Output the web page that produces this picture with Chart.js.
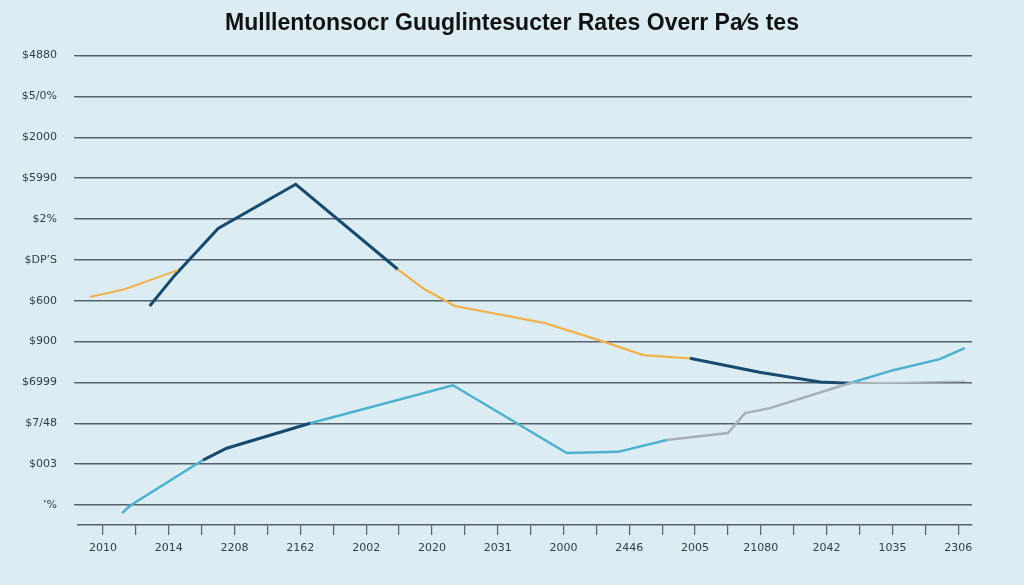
<!DOCTYPE html>
<html>
<head>
<meta charset="utf-8">
<script src="https://cdn.jsdelivr.net/npm/chart.js@4/dist/chart.umd.min.js"></script>
<style>
  html, body { margin: 0; padding: 0; background: #dbedf2; }
  #wrap { width: 1024px; height: 585px; position: relative; }
</style>
</head>
<body>
<div id="wrap"><canvas id="chart"></canvas></div>
<script>
// Title and tick labels (as printed in the picture)
const chartTitle = 'Mulllentonsocr Guuglintesucter Rates Overr Pa\u2044s tes';
const xTickLabels = ['2010', '2014', '2208', '2162', '2002', '2020', '2031',
                     '2000', '2446', '2005', '21080', '2042', '1035', '2306'];
// bottom to top
const yTickLabels = ['\u2019%', '$003', '$7/48', '$6999', '$900', '$600',
                     '$DP\u2019S', '$2%', '$5990', '$2000', '$5/0%', '$4880'];

// Line segments, x = tick index, y = gridline index
const orangeA_x = [-0.20, 0.33, 1.14];
const orangeA_y = [5.09, 5.28, 5.75];
const navyA_x = [0.71, 1.09, 1.75, 2.93, 4.48];
const navyA_y = [4.87, 5.62, 6.77, 7.85, 5.77];
const orangeB_x = [4.48, 4.89, 5.35, 6.72, 7.55, 8.21, 8.92];
const orangeB_y = [5.77, 5.28, 4.87, 4.45, 4.03, 3.67, 3.59];
const navyB_x = [8.92, 9.98, 10.90, 11.35];
const navyB_y = [3.59, 3.25, 3.01, 2.98];
const blueC_x = [11.35, 12.01, 12.72, 13.10];
const blueC_y = [2.98, 3.30, 3.57, 3.84];
const grayFlat_x = [11.35, 13.10];
const grayFlat_y = [2.98, 3.03];
const grayRise_x = [8.57, 9.50, 9.76, 10.14, 11.35];
const grayRise_y = [1.59, 1.76, 2.25, 2.37, 2.98];
const blueA_x = [0.29, 0.41, 1.52];
const blueA_y = [-0.20, -0.02, 1.10];
const navyC_x = [1.52, 1.88, 3.15];
const navyC_y = [1.10, 1.39, 2.00];
const blueD_x = [3.15, 5.32, 6.29, 7.05, 7.83, 8.57];
const blueD_y = [2.00, 2.93, 2.00, 1.27, 1.30, 1.59];

const ORANGE = '#f1b24b';
const NAVY = '#164a6e';
const BLUE = '#4cb0cf';
const GRAY = '#a8aeb4';
const GRID = '#56606a';

function seg(xs, ys, color, width) {
    return {
        data: xs.map((x, i) => ({ x: x, y: ys[i] })),
        borderColor: color,
        borderWidth: width,
        pointRadius: 0,
        tension: 0,
        fill: false
    };
}

const datasets = [
    seg(grayFlat_x, grayFlat_y, '#b9bec3', 1.5),
    seg(grayRise_x, grayRise_y, GRAY, 2.5),
    seg(blueA_x, blueA_y, BLUE, 2.5),
    seg(blueD_x, blueD_y, BLUE, 2.5),
    seg(blueC_x, blueC_y, BLUE, 2.5),
    seg(orangeA_x, orangeA_y, ORANGE, 2),
    seg(orangeB_x, orangeB_y, ORANGE, 2.2),
    seg(navyC_x, navyC_y, NAVY, 3),
    seg(navyA_x, navyA_y, NAVY, 3),
    seg(navyB_x, navyB_y, NAVY, 3)
];

const tickFont = { family: 'DejaVu Sans', size: 11 };

new Chart(document.getElementById('chart'), {
    type: 'line',
    data: { datasets: datasets },
    options: {
        responsive: true,
        maintainAspectRatio: false,
        animation: false,
        layout: { padding: 0 },
        plugins: {
            legend: { display: false },
            tooltip: { enabled: false },
            title: {
                display: true,
                text: chartTitle,
                color: '#111111',
                font: { family: 'Liberation Sans', size: 23, weight: 'bold' },
                padding: { top: 10, bottom: 18 }
            }
        },
        scales: {
            x: {
                type: 'linear',
                min: -0.38,
                max: 13.21,
                afterBuildTicks: (scale) => {
                    const t = [];
                    for (let i = 0; i < xTickLabels.length; i++) {
                        t.push({ value: i });
                        if (i < xTickLabels.length - 1) t.push({ value: i + 0.5 });
                    }
                    scale.ticks = t;
                },
                afterFit: (scale) => { scale.height = 60; },
                grid: {
                    drawOnChartArea: false,
                    drawTicks: true,
                    tickLength: 10,
                    color: GRID,
                    lineWidth: 1.2
                },
                border: { display: true, color: GRID, width: 1.5 },
                ticks: {
                    autoSkip: false,
                    maxRotation: 0,
                    padding: 7,
                    color: '#2c3e4e',
                    font: tickFont,
                    callback: (v) => Number.isInteger(v) ? xTickLabels[v] : ''
                }
            },
            y: {
                type: 'linear',
                min: -0.49,
                max: 11,
                afterBuildTicks: (scale) => {
                    scale.ticks = yTickLabels.map((_, i) => ({ value: i }));
                },
                afterFit: (scale) => { scale.width = 78; },
                grid: {
                    color: GRID,
                    lineWidth: 1.4,
                    tickLength: 4
                },
                border: { display: false },
                ticks: {
                    padding: 17,
                    color: '#2c3e4e',
                    font: tickFont,
                    callback: (v) => yTickLabels[v]
                }
            },
            // empty right-hand strip, keeps the plot off the right edge
            yRight: {
                position: 'right',
                afterFit: (scale) => { scale.width = 52; },
                grid: { drawOnChartArea: false, drawTicks: false },
                border: { display: false },
                ticks: { display: false }
            }
        }
    }
});
</script>
</body>
</html>
